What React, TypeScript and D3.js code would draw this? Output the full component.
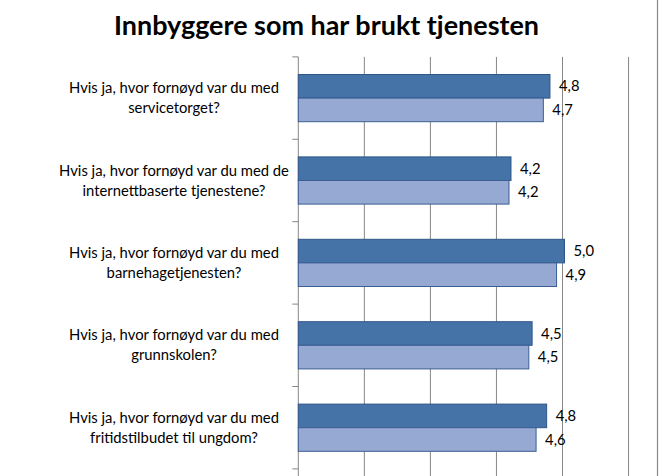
import React from "react";
import * as d3 from "d3";

const title = "Innbyggere som har brukt tjenesten";
const categories: string[][] = [
  ["Hvis ja, hvor fornøyd var du med", "servicetorget?"],
  ["Hvis ja, hvor fornøyd var du med de", "internettbaserte tjenestene?"],
  ["Hvis ja, hvor fornøyd var du med", "barnehagetjenesten?"],
  ["Hvis ja, hvor fornøyd var du med", "grunnskolen?"],
  ["Hvis ja, hvor fornøyd var du med", "fritidstilbudet til ungdom?"],
];
const seriesA = [4.81, 4.22, 5.03, 4.54, 4.76];
const seriesB = [4.71, 4.19, 4.91, 4.49, 4.6];
const gridValues = [2, 3, 4, 5, 6];

const W = 659;
const H = 476;
const plotLeft = 298.3;
const plotTop = 56.9;
const bandH = 82.4;

export default function App() {
  const x = d3.scaleLinear().domain([1, 6]).range([plotLeft, plotLeft + 5 * 66.05]);
  const y = d3
    .scaleBand<number>()
    .domain(d3.range(categories.length))
    .range([plotTop, plotTop + bandH * categories.length])
    .paddingInner(0)
    .paddingOuter(0);
  const inner = d3.scaleBand<number>().domain([0, 1]).range([0, 47.2]);
  const fmt = (v: number) => d3.format(".1f")(v).replace(".", ",");
  const series = [
    { vals: seriesA, fill: "#4572A7", stroke: "#2F5689" },
    { vals: seriesB, fill: "#95A9D2", stroke: "#3B5E93" },
  ];
  const ticksY = d3.range(categories.length + 1).map((i) => plotTop + i * y.bandwidth());
  return (
    <svg
      width={W}
      height={H}
      style={{ position: "absolute", left: 0, top: 0, background: "#fff" }}
      fontFamily="Lato, 'Open Sans', sans-serif"
    >
      <rect x={0} y={0} width={W} height={H} fill="#fff" />
      <text
        x={114}
        y={34.5}
        fontSize={26}
        fontWeight="bold"
        textLength={425}
        lengthAdjust="spacingAndGlyphs"
        fill="#000"
      >
        {title}
      </text>
      {gridValues.map((g) => (
        <line key={g} x1={x(g)} x2={x(g)} y1={plotTop} y2={H} stroke="#868686" strokeWidth={1} />
      ))}
      <line x1={657.5} x2={657.5} y1={0} y2={H} stroke="#8a8a8a" strokeWidth={1.2} />
      <line x1={plotLeft} x2={plotLeft} y1={plotTop} y2={H} stroke="#868686" strokeWidth={1} />
      {ticksY.map((t, i) => (
        <line key={i} x1={plotLeft - 6} x2={plotLeft} y1={t} y2={t} stroke="#868686" strokeWidth={1} />
      ))}
      {categories.map((lines, i) => {
        const c = (y(i) as number) + y.bandwidth() / 2;
        return (
          <g key={i}>
            {series.map((s, k) => {
              const by = c - 23.6 + (inner(k) as number);
              const v = s.vals[i];
              return (
                <g key={k}>
                  <rect
                    x={x(1)}
                    y={by}
                    width={x(v) - x(1)}
                    height={inner.bandwidth()}
                    fill={s.fill}
                    stroke={s.stroke}
                    strokeWidth={1}
                  />
                  <text x={x(v) + 9} y={by + inner.bandwidth() / 2 + 5} fontSize={14.8} fill="#000">
                    {fmt(v)}
                  </text>
                </g>
              );
            })}
            <text textAnchor="middle" fontSize={14.8} fill="#000">
              <tspan x={174} y={c - 5}>{lines[0]}</tspan>
              <tspan x={174} y={c + 15}>{lines[1]}</tspan>
            </text>
          </g>
        );
      })}
    </svg>
  );
}
